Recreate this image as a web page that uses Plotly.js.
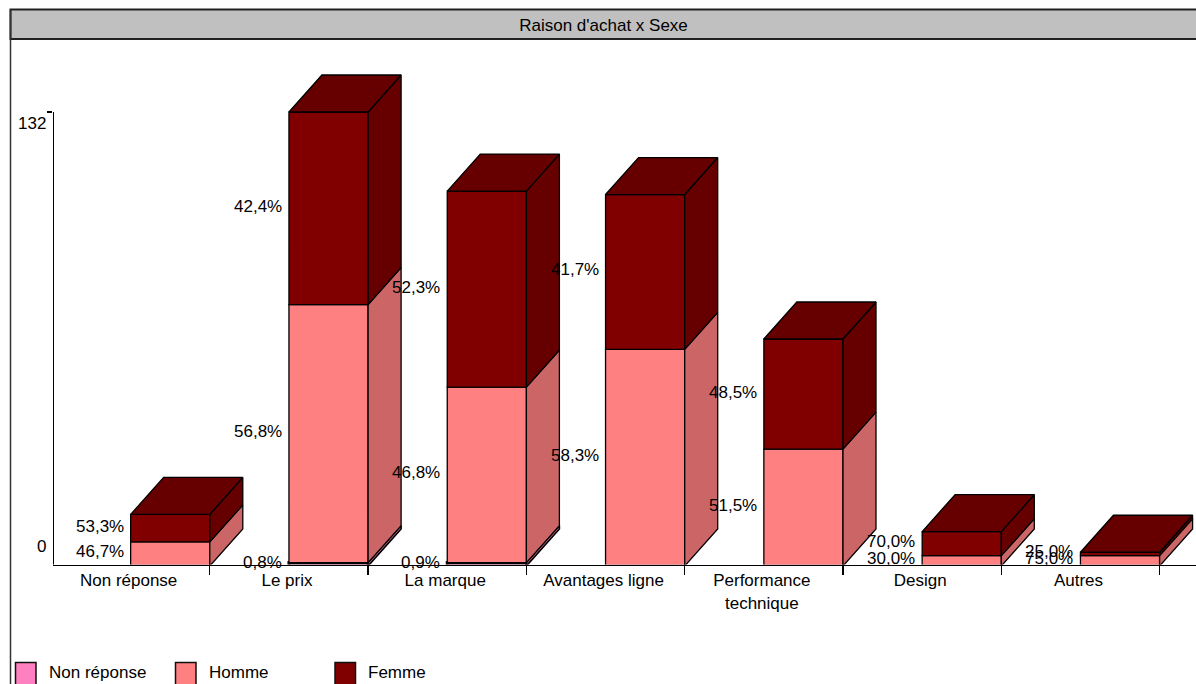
<!DOCTYPE html>
<html>
<head>
<meta charset="utf-8">
<script src="https://cdn.plot.ly/plotly-3.0.1.min.js"></script>
<style>html,body{margin:0;padding:0;background:#fff;overflow:hidden}</style>
</head>
<body>
<div id="chart" style="width:1196px;height:684px"></div>
<script>
// Survey counts per purchase reason, split by respondent sex
const categories = ['Non réponse', 'Le prix', 'La marque', 'Avantages ligne', 'Performance<br>technique', 'Design', 'Autres'];
const nonReponse = [0, 1, 1, 0, 0, 0, 0];
const homme = [7, 75, 51, 63, 34, 3, 3];
const femme = [8, 56, 57, 45, 32, 7, 1];
const pctNonReponse = ['', '0,8%', '0,9%', '', '', '', ''];
const pctHomme = ['46,7%', '56,8%', '46,8%', '58,3%', '51,5%', '30,0%', '75,0%'];
const pctFemme = ['53,3%', '42,4%', '52,3%', '41,7%', '48,5%', '70,0%', '25,0%'];
const seriesNames = ['Non réponse', 'Homme', 'Femme'];
const yMax = 132;

const FONT = 'Liberation Sans, Arial, sans-serif';
const FONT_SIZE = 17;
const W = 1196, H = 684;
const zeroPx = 566, maxPx = 112;         // pixel rows of value 0 and of yMax
const plotTopPx = 60;                    // room above yMax for the column tops
const plotBottomPx = 564.5;
const plotLeftPx = 53;
const slot = 158.3;
const unitPx = (zeroPx - maxPx) / yMax;
const barWidth = 0.5;
const depthX = 33 / slot;
const depthY = 37 / unitPx;
const xStart = -0.5 + 1.5 / slot;

const series = [
  {name: seriesNames[0], values: nonReponse, pct: pctNonReponse, front: '#FF80C0', side: '#CC6699', lineWidth: 3, sideWidth: 1.6},
  {name: seriesNames[1], values: homme, pct: pctHomme, front: '#FF8080', side: '#CC6666', lineWidth: 1.3, sideWidth: 1.3},
  {name: seriesNames[2], values: femme, pct: pctFemme, front: '#800000', side: '#660000', lineWidth: 1.3, sideWidth: 1.3}
];
const xs = categories.map((_, i) => i);

const traces = [];
const annotations = [];
const tops = xs.map(() => 0);

series.forEach(s => {
  const bases = tops.slice();
  traces.push({
    type: 'bar', name: s.name, x: xs, y: s.values, base: bases,
    width: barWidth, offset: 0,
    marker: {color: s.front, line: {color: '#000', width: s.lineWidth}}, hoverinfo: 'skip'
  });
  xs.forEach(i => {
    const v = s.values[i];
    if (!v) return;
    const right = i + barWidth;
    const lo = bases[i], hi = lo + v;
    // receding right-hand face of this segment
    traces.push({
      type: 'scatter', mode: 'lines', cliponaxis: false, showlegend: false, hoverinfo: 'skip',
      x: [right, right + depthX, right + depthX, right, right],
      y: [lo, lo + depthY, hi + depthY, hi, lo],
      fill: 'toself', fillcolor: s.side, line: {color: '#000', width: s.sideWidth}
    });
    tops[i] = hi;
    annotations.push({
      xref: 'x', yref: 'y', x: i, y: lo + v / 2, text: s.pct[i], showarrow: false,
      xanchor: 'right', yanchor: 'middle', xshift: -5, yshift: 2,
      font: {family: FONT, size: FONT_SIZE, color: '#000'}
    });
  });
});

// top faces close each column
xs.forEach(i => {
  const right = i + barWidth, t = tops[i];
  traces.push({
    type: 'scatter', mode: 'lines', cliponaxis: false, showlegend: false, hoverinfo: 'skip',
    x: [i, i + depthX, right + depthX, right, i],
    y: [t, t + depthY, t + depthY, t, t],
    fill: 'toself', fillcolor: '#660000', line: {color: '#000', width: 1.3}
  });
});

// vertical axis stops at the scale maximum, below the top of the plot area
traces.push({
  type: 'scatter', mode: 'lines', cliponaxis: false, showlegend: false, hoverinfo: 'skip',
  x: [xStart, xStart], y: [0, yMax], line: {color: '#000', width: 2}
});

// value scale labels sit just inside the axis ends
[[yMax, 123], [0, 546]].forEach(([v, rowPx]) => {
  annotations.push({
    xref: 'paper', yref: 'paper', x: 47.5 / W, y: 1 - rowPx / H, text: String(v), showarrow: false,
    xanchor: 'right', yanchor: 'middle',
    font: {family: FONT, size: FONT_SIZE, color: '#000'}
  });
});

// legend row along the bottom edge
const legendX = [15.5, 175.5, 335];
const shapes = [
  {type: 'rect', xref: 'paper', yref: 'paper', x0: 10.5 / W, x1: 1 + 5 / W, y0: 1 - 39 / H, y1: 1 - 9.5 / H,
   fillcolor: '#C0C0C0', line: {color: '#222', width: 2}, layer: 'below'},
  {type: 'line', xref: 'paper', yref: 'paper', x0: 10.5 / W, x1: 10.5 / W, y0: 0, y1: 1 - 9.5 / H,
   line: {color: '#333', width: 1.5}, layer: 'below'}
];
series.forEach((s, k) => {
  shapes.push({
    type: 'rect', xref: 'paper', yref: 'paper',
    x0: legendX[k] / W, x1: (legendX[k] + 20.5) / W, y0: -6 / H, y1: 1 - 662.5 / H,
    fillcolor: s.front, line: {color: '#111', width: 1.5}
  });
  annotations.push({
    xref: 'paper', yref: 'paper', x: (legendX[k] + 31) / W, y: 1 - 672 / H, text: s.name, showarrow: false,
    xanchor: 'left', yanchor: 'middle', font: {family: FONT, size: FONT_SIZE, color: '#000'}
  });
});

const layout = {
  width: W, height: H,
  margin: {l: 0, r: 0, t: 0, b: 0},
  paper_bgcolor: '#fff', plot_bgcolor: 'rgba(0,0,0,0)',
  showlegend: false, barmode: 'overlay',
  title: {text: 'Raison d\'achat x Sexe', x: 603.5 / W, y: 1 - 25 / H, xanchor: 'center', yanchor: 'middle',
          font: {family: FONT, size: FONT_SIZE, color: '#000'}},
  xaxis: {
    domain: [plotLeftPx / W, 1], range: [xStart, xStart + (W - plotLeftPx) / slot],
    tickmode: 'array', tickvals: xs, ticktext: categories, ticks: '', ticklen: 0, ticklabelshift: -2,
    tickfont: {family: FONT, size: FONT_SIZE, color: '#000'},
    minor: {tickmode: 'array', tickvals: xs.map(i => i + 0.5), ticks: 'outside', ticklen: 9, tickwidth: 1.3, tickcolor: '#000', showgrid: false},
    showline: true, linecolor: '#000', linewidth: 1.5, showgrid: false, zeroline: false, fixedrange: true
  },
  yaxis: {
    domain: [1 - plotBottomPx / H, 1 - plotTopPx / H],
    range: [(zeroPx - plotBottomPx) / unitPx, (zeroPx - plotTopPx) / unitPx],
    tickmode: 'array', tickvals: [yMax], ticktext: [''], ticks: 'outside', ticklen: 5, tickwidth: 1.5, tickcolor: '#000',
    showticklabels: false, showline: false, showgrid: false, zeroline: false, fixedrange: true
  },
  shapes, annotations
};

Plotly.newPlot('chart', traces, layout, {staticPlot: true, displayModeBar: false});
</script>
</body>
</html>
